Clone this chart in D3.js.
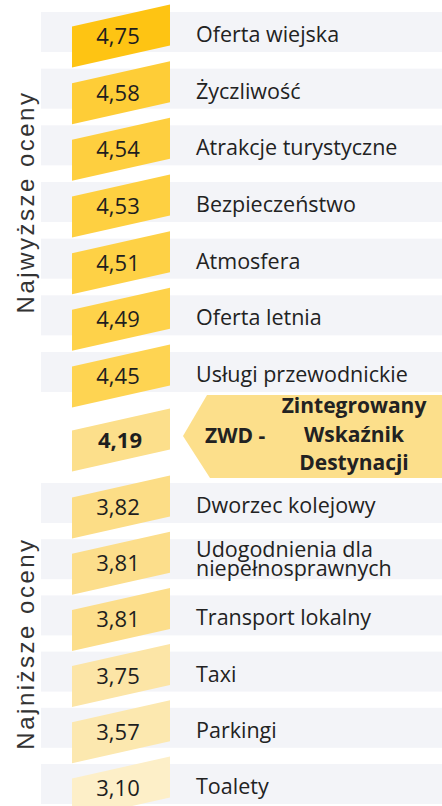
<!DOCTYPE html>
<html>
<head>
<meta charset="utf-8">
<script src="https://cdn.jsdelivr.net/npm/d3@7"></script>
<style>
  body { margin: 0; background: #fff; }
  svg { display: block; }
</style>
</head>
<body>
<script>
var width = 442
var height = 806

// data
var categories = ["Oferta wiejska", "Życzliwość", "Atrakcje turystyczne", "Bezpieczeństwo", "Atmosfera",
  "Oferta letnia", "Usługi przewodnickie", "ZWD", "Dworzec kolejowy",
  "Udogodnienia dla\nniepełnosprawnych", "Transport lokalny", "Taxi", "Parkingi", "Toalety"]
var values = [4.75, 4.58, 4.54, 4.53, 4.51, 4.49, 4.45, 4.19, 3.82, 3.81, 3.81, 3.75, 3.57, 3.10]
var zwdIndex = 7
var zwdPrefix = "ZWD -"
var zwdName = ["Zintegrowany", "Wskaźnik", "Destynacji"]
var groupLabels = ["Najwyższe oceny", "Najniższe oceny"]
var groupFirst = [0, 8]
var groupLast = [6, 13]

var fmt = function(v) { return d3.format(".2f")(v).replace(".", ","); }

var svg = d3.select("body").append("svg")
    .attr("width", width)
    .attr("height", height)

// row centres, the ZWD row gets a bit more room
var yScale = d3.scaleLinear()
    .domain([0, 6, 7, 8, 13])
    .range([32, 372, 436, 503, 784])

var color = d3.scaleLinear()
    .domain([3.10, 3.75, 3.82, 4.45, 4.75])
    .range(["#fdefc8", "#fce5a6", "#fcdd86", "#fed452", "#fec413"])
var zwdColor = "#fcdf8b"

var rows = values.map(function(v, i) { return {i: i, value: v, label: categories[i]}; })
var normal = rows.filter(function(d) { return d.i !== zwdIndex; })

// grey bands
svg.append("g").selectAll("rect")
    .data(normal)
    .join("rect")
    .attr("x", 41)
    .attr("y", function(d) { return yScale(d.i) - 20; })
    .attr("width", width - 41)
    .attr("height", 40)
    .attr("fill", "#f3f4f8")

// ZWD arrow
var c = yScale(zwdIndex)
svg.append("polygon")
    .attr("points", [[207, c - 41], [width, c - 41], [width, c + 42], [210, c + 42], [183, c]].join(" "))
    .attr("fill", zwdColor)

// slanted value boxes
var x0 = 72, x1 = 170, h = 41, skew = 22
svg.append("g").selectAll("polygon")
    .data(rows)
    .join("polygon")
    .attr("points", function(d) {
      var cy = yScale(d.i) + 4
      return [[x0, cy - h / 2 + skew / 2], [x1, cy - h / 2 - skew / 2],
              [x1, cy + h / 2 - skew / 2], [x0, cy + h / 2 + skew / 2]].join(" ")
    })
    .attr("fill", function(d) { return d.i === zwdIndex ? zwdColor : color(d.value); })

svg.append("g").selectAll("text")
    .data(rows)
    .join("text")
    .attr("x", function(d) { return d.i === zwdIndex ? 120 : 118; })
    .attr("y", function(d) { return yScale(d.i) + 12; })
    .attr("text-anchor", "middle")
    .attr("font-family", "Open Sans")
    .attr("font-size", 22)
    .attr("font-weight", function(d) { return d.i === zwdIndex ? 700 : 400; })
    .attr("fill", "#1e1e1e")
    .text(function(d) { return fmt(d.value); })

// row labels
var lab = svg.append("g").selectAll("text")
    .data(normal)
    .join("text")
    .attr("font-family", "Open Sans")
    .attr("font-size", 21.5)
    .attr("fill", "#222")
    .attr("x", 196)
    .attr("y", function(d) {
      var lines = d.label.split("\n").length
      return lines > 1 ? yScale(d.i) - 2 : yScale(d.i) + 10
    })
lab.selectAll("tspan")
    .data(function(d) { return d.label.split("\n"); })
    .join("tspan")
    .attr("x", 196)
    .attr("dy", function(d, j) { return j === 0 ? 0 : 19; })
    .text(function(d) { return d; })

// ZWD texts
svg.append("text")
    .attr("x", 205)
    .attr("y", c + 7)
    .attr("font-family", "Open Sans")
    .attr("font-size", 21)
    .attr("font-weight", 700)
    .attr("fill", "#222")
    .text(zwdPrefix)

svg.append("g").selectAll("text")
    .data(zwdName)
    .join("text")
    .attr("x", 354)
    .attr("y", function(d, j) { return c - 23 + j * 28.5; })
    .attr("text-anchor", "middle")
    .attr("font-family", "Open Sans")
    .attr("font-size", 21)
    .attr("font-weight", 700)
    .attr("fill", "#222")
    .text(function(d) { return d; })

// vertical group labels
svg.append("g").selectAll("text")
    .data(groupLabels)
    .join("text")
    .attr("transform", function(d, i) {
      var cy = (yScale(groupFirst[i]) + yScale(groupLast[i])) / 2
      return "translate(34," + cy + ") rotate(-90)"
    })
    .attr("text-anchor", "middle")
    .attr("font-family", "Liberation Sans")
    .attr("font-size", 24)
    .attr("letter-spacing", 2.5)
    .attr("fill", "#333")
    .text(function(d) { return d; })
</script>
</body>
</html>
